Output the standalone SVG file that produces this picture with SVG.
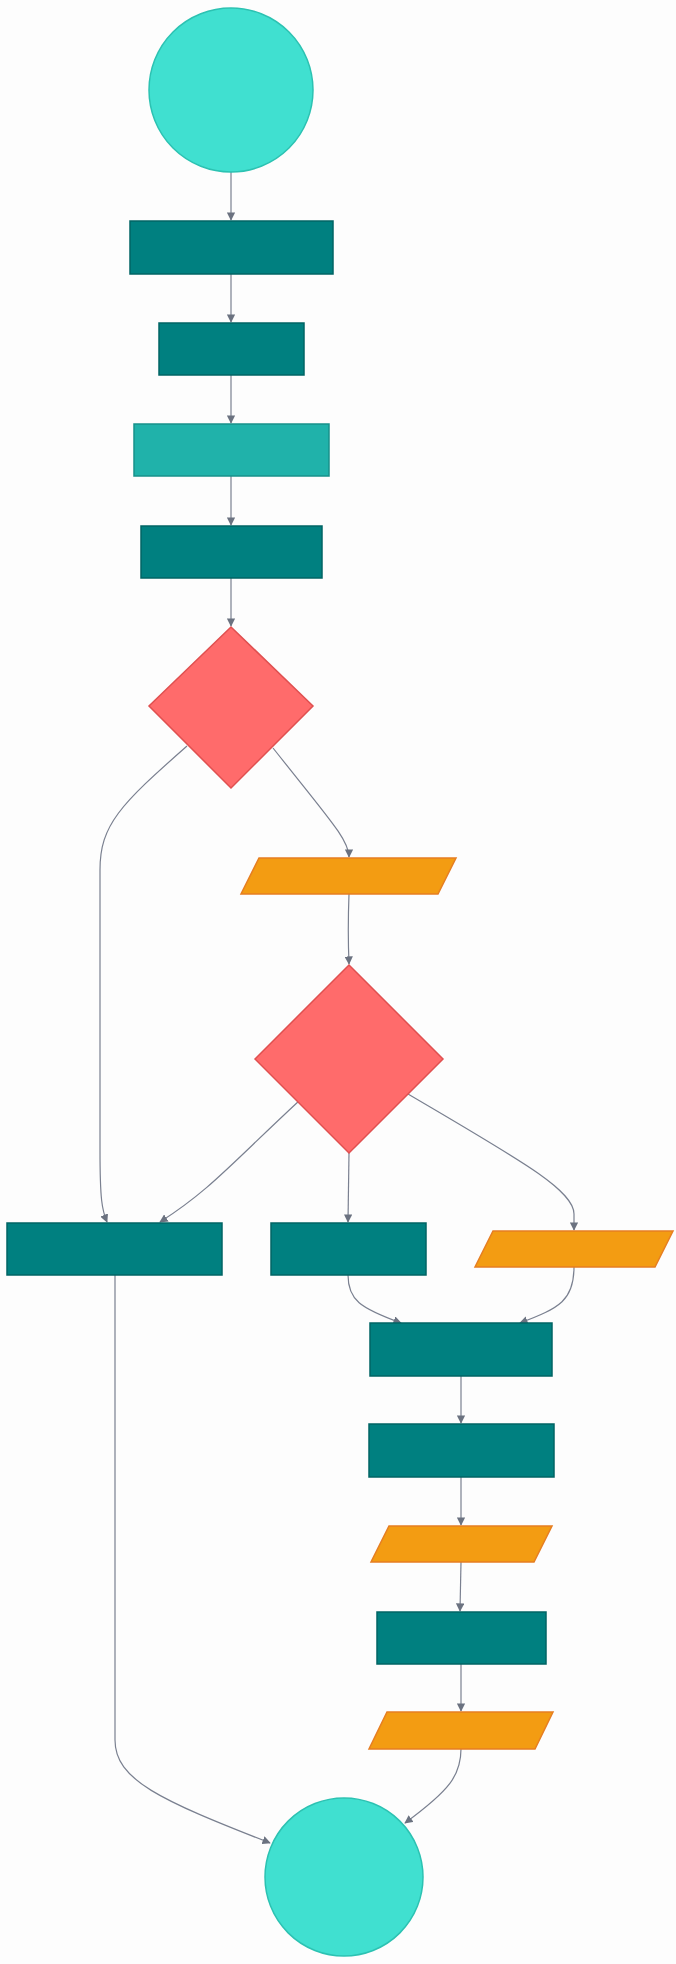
<svg xmlns="http://www.w3.org/2000/svg" width="676" height="1964" viewBox="0 0 676 1964">
<style>
.t{fill:#008080;stroke:#006464;stroke-width:1.5}
.l{fill:#20B2AA;stroke:#17918a;stroke-width:1.5}
.c{fill:#40E0D0;stroke:#2cc2b2;stroke-width:1.5}
.d{fill:#FF6B6B;stroke:#e05050;stroke-width:1.5}
.p{fill:#F39C12;stroke:#E67E22;stroke-width:1.5}
.e{fill:none;stroke:#7a8090;stroke-width:1.2;marker-end:url(#a)}
</style>
<defs><marker id="a" viewBox="0 0 10 10" refX="9" refY="5" markerWidth="7" markerHeight="7" orient="auto"><path d="M0,0L10,5L0,10z" fill="#6b7280"/></marker></defs>
<rect width="676" height="1964" fill="#fdfdfd"/>
<g id="edges">
<path class="e" d="M231,172V220"/>
<path class="e" d="M231,274V322"/>
<path class="e" d="M231,375V423"/>
<path class="e" d="M231,476V525"/>
<path class="e" d="M231,578V626"/>
<path class="e" d="M187,746C120,805 100,825 100,870V1150C100,1200 102,1210 107,1222"/>
<path class="e" d="M273,748C330,820 349,840 349,857"/>
<path class="e" d="M349,894C348,920 348,940 349,964"/>
<path class="e" d="M300,1100C230,1165 210,1190 160,1222"/>
<path class="e" d="M349,1153L348,1222"/>
<path class="e" d="M408,1094C520,1160 574,1190 574,1214V1230"/>
<path class="e" d="M348,1275C348,1300 360,1308 401,1323"/>
<path class="e" d="M574,1267C574,1300 560,1308 520,1323"/>
<path class="e" d="M461,1376V1423"/>
<path class="e" d="M461,1477V1525"/>
<path class="e" d="M461,1562L460,1611"/>
<path class="e" d="M461,1664V1711"/>
<path class="e" d="M115,1275V1740C115,1780 160,1800 270,1843"/>
<path class="e" d="M461,1749C461,1775 450,1790 405,1823"/>
</g>
<g id="start"><circle class="c" cx="231" cy="90" r="82"/></g>
<g id="n1"><rect class="t" x="130" y="221" width="203" height="53"/></g>
<g id="n2"><rect class="t" x="159" y="323" width="145" height="52"/></g>
<g id="n3"><rect class="l" x="134" y="424" width="195" height="52"/></g>
<g id="n4"><rect class="t" x="141" y="526" width="181" height="52"/></g>
<g id="d1"><polygon class="d" points="231,627 313,706 231,788 149,706"/></g>
<g id="p1"><polygon class="p" points="259,858 456,858 438,894 241,894"/></g>
<g id="d2"><polygon class="d" points="349,965 443,1059 349,1153 255,1059"/></g>
<g id="n5"><rect class="t" x="7" y="1223" width="215" height="52"/></g>
<g id="n6"><rect class="t" x="271" y="1223" width="155" height="52"/></g>
<g id="p2"><polygon class="p" points="493,1231 673,1231 655,1267 475,1267"/></g>
<g id="n7"><rect class="t" x="370" y="1323" width="182" height="53"/></g>
<g id="n8"><rect class="t" x="369" y="1424" width="185" height="53"/></g>
<g id="p3"><polygon class="p" points="389,1526 552,1526 534,1562 371,1562"/></g>
<g id="n9"><rect class="t" x="377" y="1612" width="169" height="52"/></g>
<g id="p4"><polygon class="p" points="387,1712 553,1712 535,1749 369,1749"/></g>
<g id="end"><circle class="c" cx="344" cy="1877" r="79"/></g>
</svg>
